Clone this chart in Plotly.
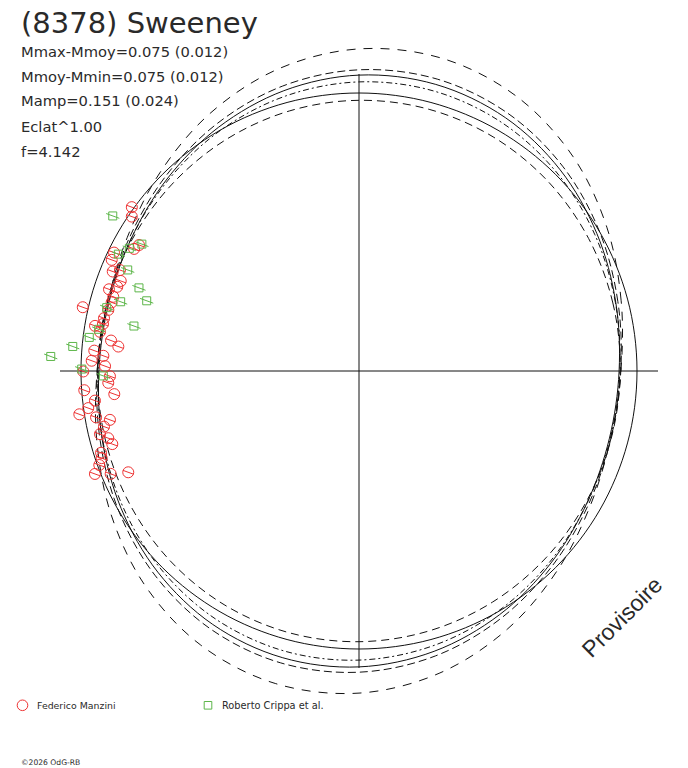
import plotly.graph_objects as go

# angles des échantillons (degrés, 0 = droite, sens trigo)
angles = [0, 15, 30, 45, 60, 75, 90, 105, 120, 135, 150, 165,
          180, 195, 210, 225, 240, 255, 270, 285, 300, 315, 330, 345, 360]

r_cercle = [278] * 25
r_fit = [260.1, 265.8, 274.7, 284.5, 292.6, 296.7, 295.9, 290.2, 281.3, 271.5, 263.4, 259.3,
         260.1, 265.8, 274.7, 284.5, 292.6, 296.7, 295.9, 290.2, 281.3, 271.5, 263.4, 259.3, 260.1]
r_ext = [261.9, 271.4, 286.4, 302.9, 316.5, 323.5, 322.1, 312.6, 297.6, 281.1, 267.5, 260.5,
         261.9, 271.4, 286.4, 302.9, 316.5, 323.5, 322.1, 312.6, 297.6, 281.1, 267.5, 260.5, 261.9]
r_sup = [261.8, 268.0, 277.9, 288.7, 297.6, 302.2, 301.2, 295.0, 285.1, 274.3, 265.4, 260.8,
         261.8, 268.0, 277.9, 288.7, 297.6, 302.2, 301.2, 295.0, 285.1, 274.3, 265.4, 260.8, 261.8]
r_mix = [260.9, 265.4, 272.4, 280.1, 286.5, 289.8, 289.1, 284.6, 277.6, 269.9, 263.5, 260.2,
         260.9, 265.4, 272.4, 280.1, 286.5, 289.8, 289.1, 284.6, 277.6, 269.9, 263.5, 260.2, 260.9]
r_inf = [261.3, 262.8, 265.1, 267.7, 269.8, 270.9, 270.7, 269.2, 266.9, 264.3, 262.2, 261.1,
         261.3, 262.8, 265.1, 267.7, 269.8, 270.9, 270.7, 269.2, 266.9, 264.3, 262.2, 261.1, 261.3]

# mesures Federico Manzini (phase en degrés, rayon)
fm_theta = [144.2, 145.8, 150.2, 151.5, 154.2, 155.8, 158.0, 157.1, 159.3, 160.8, 161.9, 163.2,
            164.5, 167.0, 166.3, 168.3, 169.6, 170.3, 171.4, 173.0, 174.2, 175.6, 176.6, 177.8,
            178.9, 180.1, 181.2, 182.7, 184.0, 185.4, 186.4, 187.8, 188.8, 190.0, 191.1, 192.3,
            193.7, 195.0, 196.5, 197.6, 198.7, 199.9, 201.3, 202.5, 203.7]
fm_r = [280.1, 274.7, 253.5, 255.9, 272.1, 271.1, 265.6, 259.5, 254.7, 256.0, 263.0, 256.7,
        256.7, 283.5, 258.0, 260.4, 260.3, 267.8, 262.0, 249.8, 241.9, 265.5, 256.1, 267.5,
        254.0, 275.7, 249.1, 251.0, 275.4, 245.8, 265.7, 273.3, 283.0, 267.0, 253.8, 261.0,
        266.6, 259.6, 257.3, 270.6, 271.7, 276.2, 283.4, 268.8, 252.0]

# mesures Roberto Crippa et al.
rc_theta = [147.8, 149.7, 151.9, 154.1, 156.4, 159.3, 161.7, 163.8, 165.9, 168.7, 170.9, 172.9,
            175.1, 177.3, 179.6, 181.1]
rc_r = [291.0, 251.5, 260.4, 267.5, 252.4, 235.2, 223.6, 248.2, 260.1, 229.5, 263.6, 271.8,
        287.3, 308.6, 277.3, 255.7]

infos = ["Mmax-Mmoy=0.075 (0.012)", "Mmoy-Mmin=0.075 (0.012)", "Mamp=0.151 (0.024)",
         "Eclat^1.00", "f=4.142"]

noir = "#111111"
gris = "#2a2a2a"
rouge = "#ee3333"
vert = "#5db64a"
W, H = 688, 768

fig = go.Figure()

courbes = [(r_ext, "9px,8px"), (r_sup, "8px,4px"), (r_fit, "solid"),
           (r_mix, "6px,3px,2px,3px"), (r_cercle, "solid"), (r_inf, "8px,5px")]
for rr, d in courbes:
    fig.add_trace(go.Scatterpolar(r=rr, theta=angles, mode="lines",
                                  line=dict(color=noir, width=1, dash=d, shape="spline"),
                                  showlegend=False, hoverinfo="skip"))

# les axes en croix
fig.add_trace(go.Scatterpolar(r=[297, 0, 297], theta=[90, 0, 270], mode="lines",
                              line=dict(color=noir, width=1), showlegend=False, hoverinfo="skip"))
fig.add_trace(go.Scatterpolar(r=[299, 0, 299], theta=[180, 0, 0], mode="lines",
                              line=dict(color=noir, width=1), showlegend=False, hoverinfo="skip"))

# points
fig.add_trace(go.Scatterpolar(r=fm_r, theta=fm_theta, mode="markers",
                              marker=dict(symbol="circle-open", size=11, color=rouge, line=dict(width=1)),
                              name="Federico Manzini", showlegend=False))
fig.add_trace(go.Scatterpolar(r=fm_r, theta=fm_theta, mode="markers",
                              marker=dict(symbol="line-ew-open", size=8, color=rouge, angle=20,
                                          line=dict(width=1, color=rouge)),
                              showlegend=False, hoverinfo="skip"))
fig.add_trace(go.Scatterpolar(r=rc_r, theta=rc_theta, mode="markers",
                              marker=dict(symbol="square-open", size=8, color=vert, line=dict(width=1)),
                              name="Roberto Crippa et al.", showlegend=False))
fig.add_trace(go.Scatterpolar(r=rc_r, theta=rc_theta, mode="markers",
                              marker=dict(symbol="line-ew-open", size=10, color=vert, angle=20,
                                          line=dict(width=1, color=vert)),
                              showlegend=False, hoverinfo="skip"))

def ann(txt, x, y, size, **kw):
    fig.add_annotation(text=txt, x=x / W, y=1 - y / H, xref="paper", yref="paper",
                       xanchor=kw.pop("xanchor", "left"), yanchor="middle", showarrow=False,
                       borderpad=0, font=dict(family=kw.pop("family", "DejaVu Sans"),
                                              size=size, color=gris), **kw)

ann("(8378) Sweeney", 20, 23, 29)
for i, t in enumerate(infos):
    ann(t, 20, 51 + 25 * i, 14.7)
ann("Provisoire", 622, 617, 23, xanchor="center", textangle=-45, family="Liberation Sans")
ann("Federico Manzini", 36, 705.5, 9.4)
ann("Roberto Crippa et al.", 221, 705.5, 9.8)
ann("©2026 OdG-RB", 20, 762, 7.6)

# symboles de la légende
fig.add_shape(type="circle", xref="paper", yref="paper",
              x0=17.2 / W, x1=27.8 / W, y0=1 - 710.6 / H, y1=1 - 700 / H,
              line=dict(color=rouge, width=1))
fig.add_shape(type="rect", xref="paper", yref="paper",
              x0=204.2 / W, x1=211.8 / W, y0=1 - 709.1 / H, y1=1 - 701.5 / H,
              line=dict(color=vert, width=1))

fig.update_layout(
    width=W, height=H, margin=dict(l=0, r=0, t=0, b=0),
    paper_bgcolor="white", plot_bgcolor="white",
    polar=dict(domain=dict(x=[30 / W, 1.0], y=[68 / H, 726 / H]),
               bgcolor="white",
               radialaxis=dict(range=[0, 329], visible=False, showgrid=False),
               angularaxis=dict(visible=False, showgrid=False, rotation=0,
                                direction="counterclockwise")),
)

# la page html a une marge de 8px par défaut : on l'enlève
fig.write_html("out.html", config={"displayModeBar": False},
               post_script="document.body.style.margin='0';")
